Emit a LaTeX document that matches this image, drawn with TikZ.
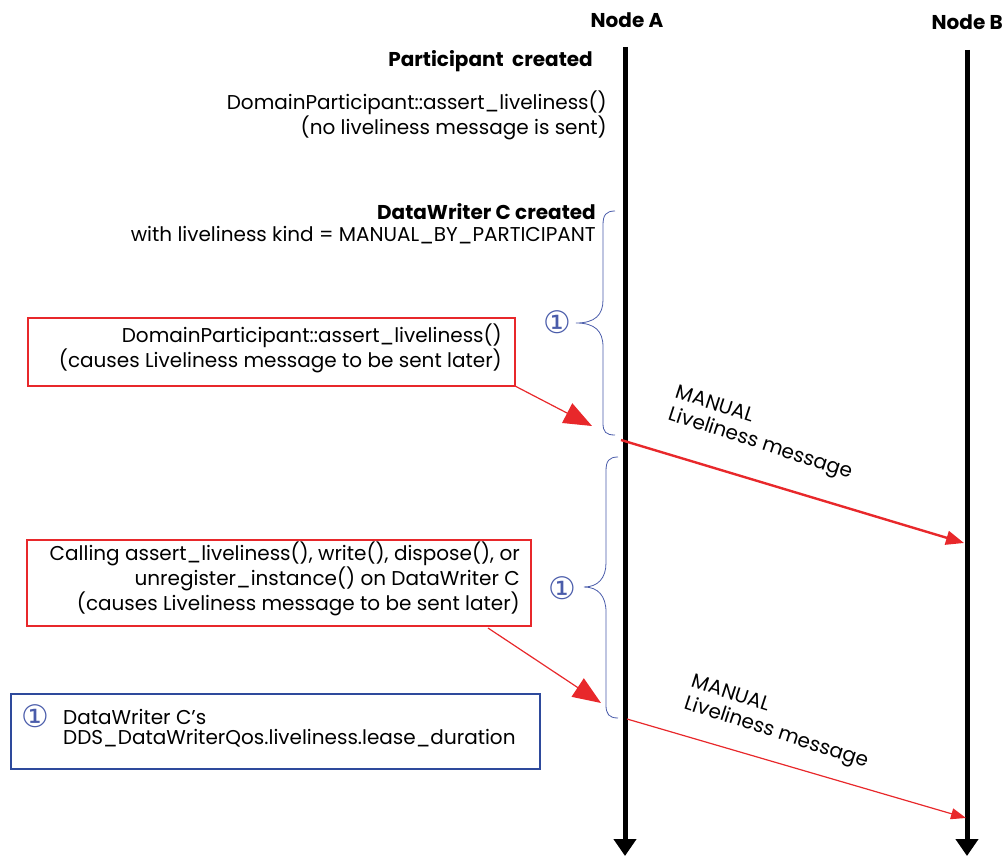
\documentclass[tikz,border=0pt]{standalone}
\usepackage{fontspec}
\setmainfont{Poppins}
\newfontfamily\symfont{DejaVu Sans}
\usetikzlibrary{arrows.meta}
\definecolor{myred}{HTML}{E8282B}
\definecolor{myblue}{HTML}{2E4A9C}
\definecolor{braceblue}{HTML}{4A5CAA}
\tikzset{
  txt/.style={inner sep=0pt, font=\fontsize{20}{22}\selectfont, align=right},
  hdr/.style={inner sep=0pt, font=\fontsize{20}{22}\selectfont\bfseries},
  lifeline/.style={line width=5pt, -{Triangle[length=17pt,width=22pt]}},
  redbox/.style={draw=myred, line width=1.8pt, inner sep=0pt},
  bluebox/.style={draw=myblue, line width=1.8pt, inner sep=0pt},
  pointer/.style={draw=myred, line width=1.2pt, -{Triangle[length=28pt,width=22pt]}},
  msgthick/.style={draw=myred, line width=2.4pt, -{Triangle[length=18pt,width=14pt]}},
  msgthin/.style={draw=myred, line width=1.2pt, -{Triangle[length=15pt,width=11pt]}},
  bracestyle/.style={draw=braceblue, line width=0.8pt},
  circ/.style={inner sep=0pt, text=braceblue, font=\symfont\fontsize{31}{31}\selectfont},
  msglabel/.style={inner sep=0pt, font=\fontsize{20}{23}\selectfont, align=left, anchor=north west},
}
\begin{document}
\begin{tikzpicture}[x=1pt,y=-1pt]
\useasboundingbox (0,0) rectangle (1005,856);
% lifelines
\node[hdr] (nA) at (627,20) {Node A};
\node[hdr, anchor=east] (nB) at (1003,22) {Node B};
\coordinate (Atop) at (625,47);
\coordinate (Abot) at (625,856);
\coordinate (Btop) at (967,50);
\coordinate (Bbot) at (967,856);
\draw[lifeline] (Atop) -- (Abot);
\draw[lifeline] (Btop) -- (Bbot);
% top texts
\node[hdr, anchor=east] (pc) at (593,61) {Participant\ \ created};
\node[txt, anchor=east] (al1) at (607,115) {DomainParticipant::assert\_liveliness()\\(no liveliness message is sent)};
\node[txt, anchor=east] (dwc) at (596,224) {\textbf{DataWriter C created}\\with liveliness kind = MANUAL\_BY\_PARTICIPANT};
% brace 1
\draw[bracestyle] (615,211) .. controls (606,211) and (603,215) .. (603,225) -- (603,300)
  .. controls (603,315) and (595,323) .. (576,323)
  .. controls (595,323) and (603,331) .. (603,347) -- (603,423)
  .. controls (603,432) and (606,435) .. (615,435);
\node[circ] (c1) at (557,322) {①};
% red box 1
\draw[redbox] (28,318) rectangle (515,386);
\node[txt, anchor=east] (b1) at (502,348) {DomainParticipant::assert\_liveliness()\\(causes Liveliness message to be sent later)};
\coordinate (b1c) at (515,386);
\coordinate (p1) at (592,426);
\draw[pointer] (b1c) -- (p1);
% message 1
\coordinate (m1s) at (621,440);
\coordinate (m1e) at (964,543);
\draw[msgthick] (m1s) -- (m1e);
\node[msglabel, rotate=-18] (l1) at (679,384) {MANUAL\\Liveliness message};
% brace 2
\draw[bracestyle] (618,457) .. controls (609,457) and (606,461) .. (606,471) -- (606,563)
  .. controls (606,578) and (598,587) .. (584,587)
  .. controls (598,587) and (606,596) .. (606,612) -- (606,705)
  .. controls (606,714) and (609,718) .. (618,718);
\node[circ] (c2) at (562,588) {①};
% red box 2
\draw[redbox] (27,540) rectangle (531,626);
\node[txt, anchor=east] (b2) at (520,579) {Calling assert\_liveliness(), write(), dispose(), or\\unregister\_instance() on DataWriter C\\(causes Liveliness message to be sent later)};
\coordinate (b2c) at (488,628);
\coordinate (p2) at (601,703);
\draw[pointer] (b2c) -- (p2);
% message 2
\coordinate (m2s) at (627,719);
\coordinate (m2e) at (966,818);
\draw[msgthin] (m2s) -- (m2e);
\node[msglabel, rotate=-18] (l2) at (695,673) {MANUAL\\Liveliness message};
% blue box
\draw[bluebox] (11,694) rectangle (540,769);
\node[circ] (c3) at (35,716) {①};
\node[txt, align=left, anchor=west, font=\fontsize{20}{20}\selectfont] (note) at (63,728) {DataWriter C’s\\DDS\_DataWriterQos.liveliness.lease\_duration};
\end{tikzpicture}
\end{document}
